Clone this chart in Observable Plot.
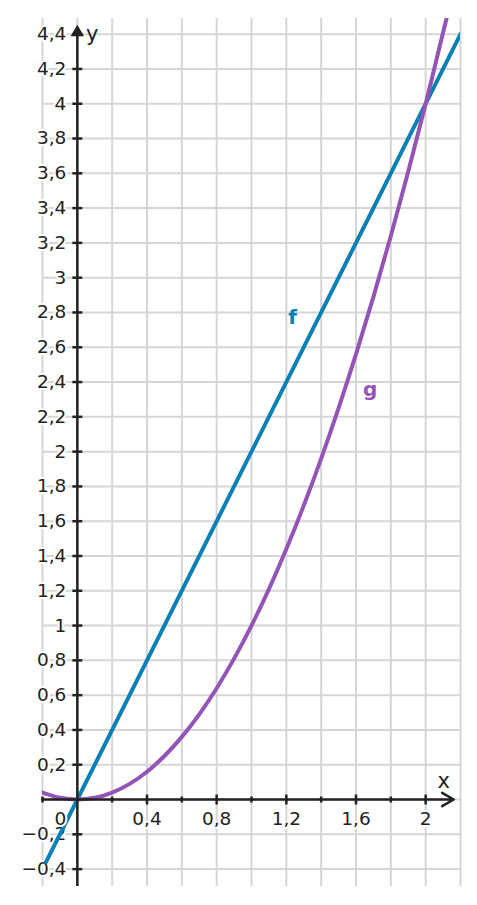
<!DOCTYPE html>
<html><head><meta charset="utf-8">
<script src="https://cdn.jsdelivr.net/npm/d3@7"></script>
<script src="https://cdn.jsdelivr.net/npm/@observablehq/plot@0.6"></script>
<style>
html,body{margin:0;padding:0;background:#fff;}
svg text{paint-order:stroke;}
svg{font-family:"DejaVu Sans" !important;}
</style></head><body><div id="chart"></div>
<script>
// Domains
const xDomain = [-0.2, 2.2];
const yDomain = [-0.5, 4.49];
// Grid
const gridX = [-0.2, 0, 0.2, 0.4, 0.6, 0.8, 1.0, 1.2, 1.4, 1.6, 1.8, 2.0, 2.2];
const gridY = [-0.4, -0.2, 0, 0.2, 0.4, 0.6, 0.8, 1.0, 1.2, 1.4, 1.6, 1.8, 2.0, 2.2, 2.4, 2.6, 2.8, 3.0, 3.2, 3.4, 3.6, 3.8, 4.0, 4.2, 4.4];
// Ticks and labels
const yTicks = [-0.4, -0.2, 0.2, 0.4, 0.6, 0.8, 1.0, 1.2, 1.4, 1.6, 1.8, 2.0, 2.2, 2.4, 2.6, 2.8, 3.0, 3.2, 3.4, 3.6, 3.8, 4.0, 4.2, 4.4];
const yTickLabels = ["−0,4", "−0,2", "0,2", "0,4", "0,6", "0,8", "1", "1,2", "1,4", "1,6", "1,8", "2", "2,2", "2,4", "2,6", "2,8", "3", "3,2", "3,4", "3,6", "3,8", "4", "4,2", "4,4"];
const xMajor = [0.4, 0.8, 1.2, 1.6, 2.0];
const xMajorLabels = ["0,4", "0,8", "1,2", "1,6", "2"];
const xMinor = [-0.2, 0.2, 0.6, 1.0, 1.4, 1.8];
// Axis extents
const xAxisEnd = 2.161;
const yAxisEnd = 4.41;
// Series f
const fX = [-0.18, 2.2];
const fY = [-0.36, 4.4];
// Series g
const gX = [-0.2, -0.1, 0, 0.1, 0.2, 0.3, 0.4, 0.5, 0.6, 0.7, 0.8, 0.9, 1.0, 1.1, 1.2, 1.3, 1.4, 1.5, 1.6, 1.7, 1.8, 1.9, 2.0, 2.1, 2.12];
const gY = [0.04, 0.01, 0, 0.01, 0.04, 0.09, 0.16, 0.25, 0.36, 0.49, 0.64, 0.81, 1.0, 1.21, 1.44, 1.69, 1.96, 2.25, 2.56, 2.89, 3.24, 3.61, 4.0, 4.41, 4.49];
// Curve labels
const curveNames = ["f", "g"];
const curveLabelX = [1.236, 1.681];
const curveLabelY = [2.772, 2.359];
const curveColors = ["#0a80b4", "#9354b6"];

const fData = fX.map((x, i) => ({x, y: fY[i]}));
const gData = gX.map((x, i) => ({x, y: gY[i]}));
const names = curveNames.map((n, i) => ({n, x: curveLabelX[i], y: curveLabelY[i], c: curveColors[i]}));

const hTick = h => ({draw(ctx){ ctx.moveTo(-h, 0); ctx.lineTo(h, 0); }});
const vTick = h => ({draw(ctx){ ctx.moveTo(0, -h); ctx.lineTo(0, h); }});
const ink = "#222";
const grid = "#d6d6d6";
const fs = "18.5px";

const chart = Plot.plot({
  width: 477, height: 905,
  marginLeft: 42, marginRight: 17, marginTop: 18, marginBottom: 19,
  x: {domain: xDomain, axis: null},
  y: {domain: yDomain, axis: null},
  style: {fontFamily: "DejaVu Sans", background: "white"},
  marks: [
    Plot.ruleX(gridX, {x: d => d, stroke: grid, strokeWidth: 2}),
    Plot.ruleY(gridY, {y: d => d, stroke: grid, strokeWidth: 2}),
    Plot.text(yTicks, {x: 0, y: d => d, text: (d, i) => yTickLabels[i], dx: -11, textAnchor: "end", fontSize: fs, fill: ink, stroke: "white", strokeWidth: 4}),
    Plot.line(fData, {x: "x", y: "y", stroke: curveColors[0], strokeWidth: 4, clip: true}),
    Plot.line(gData, {x: "x", y: "y", stroke: curveColors[1], strokeWidth: 4, curve: "catmull-rom", clip: true}),
    Plot.arrow([0], {x1: xDomain[0], x2: xAxisEnd, y1: 0, y2: 0, stroke: ink, strokeWidth: 2.5, headLength: 8}),
    Plot.ruleX([0], {x: 0, y1: yDomain[0], y2: yAxisEnd, stroke: ink, strokeWidth: 2.5}),
    Plot.dot([0], {x: 0, y: yAxisEnd, symbol: "triangle", r: 5, fill: ink}),
    Plot.dot(yTicks, {x: 0, y: d => d, symbol: hTick(5), fill: "none", stroke: ink, strokeWidth: 2.5}),
    Plot.dot(xMajor, {x: d => d, y: 0, symbol: vTick(5), fill: "none", stroke: ink, strokeWidth: 2.5}),
    Plot.dot(xMinor, {x: d => d, y: 0, symbol: vTick(3), fill: "none", stroke: ink, strokeWidth: 2.5}),
    Plot.text(xMajor, {x: d => d, y: 0, text: (d, i) => xMajorLabels[i], dy: 20, fontSize: fs, fill: ink, stroke: "white", strokeWidth: 4}),
    Plot.text(["0"], {x: 0, y: 0, text: d => d, dx: -17, dy: 20, fontSize: fs, fill: ink, stroke: "white", strokeWidth: 4}),
    Plot.text(["x"], {x: xAxisEnd, y: 0, text: d => d, dx: -10, dy: -18, fontSize: "21px", fill: ink}),
    Plot.text(["y"], {x: 0, y: yTicks[yTicks.length - 1], text: d => d, dx: 15, fontSize: "21px", fill: ink}),
    Plot.text(names, {x: "x", y: "y", text: "n", fill: "c", fontSize: "20px", fontWeight: "bold"})
  ]
});
document.getElementById("chart").appendChild(chart);
</script></body></html>
